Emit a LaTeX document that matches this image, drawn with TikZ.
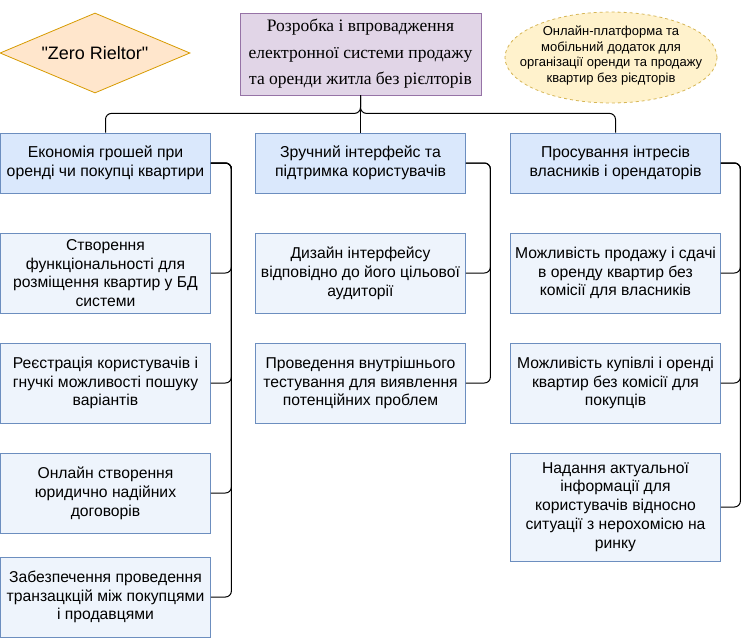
\documentclass[tikz,border=0pt]{standalone}
\usepackage{fontspec}
\setmainfont{Liberation Sans}
\newfontfamily\timesfont{Liberation Serif}
\usetikzlibrary{shapes.geometric}
\definecolor{purplefill}{HTML}{E1D5E7}
\definecolor{purplestroke}{HTML}{9673A6}
\definecolor{orangefill}{HTML}{FFE6CC}
\definecolor{orangestroke}{HTML}{D79B00}
\definecolor{yellowfill}{HTML}{FFF2CC}
\definecolor{yellowstroke}{HTML}{D6B656}
\definecolor{bluefill}{HTML}{DAE8FC}
\definecolor{lightbluefill}{HTML}{EEF4FC}
\definecolor{bluestroke}{HTML}{6C8EBF}
\begin{document}
\begin{tikzpicture}[x=1pt,y=-1pt,
  mainbox/.style={draw=purplestroke, fill=purplefill, line width=0.8pt, inner sep=0pt, align=center,
    minimum width=241pt, minimum height=82pt, font=\timesfont\fontsize{17.5}{26.5}\selectfont},
  zerobox/.style={diamond, aspect=2.375, draw=orangestroke, fill=orangefill, line width=0.8pt, inner sep=0pt,
    minimum width=190pt, minimum height=80pt, font=\fontsize{18}{20}\selectfont},
  noteshape/.style={draw=yellowstroke, fill=yellowfill, dashed, line width=0.8pt},
  notetext/.style={inner sep=0pt, align=center, font=\fontsize{13}{15.5}\selectfont},
  catbox/.style={draw=bluestroke, fill=bluefill, line width=0.8pt, inner sep=0pt, align=center,
    minimum width=210pt, minimum height=60pt, font=\fontsize{15.8}{18.8}\selectfont},
  itembox/.style={draw=bluestroke, fill=lightbluefill, line width=0.8pt, inner sep=0pt, align=center,
    minimum width=210pt, minimum height=80pt, font=\fontsize{15.7}{18.8}\selectfont},
  conn/.style={draw=black, line width=1pt, rounded corners=6pt}]
\useasboundingbox (0,0) rectangle (742,638);

\node[mainbox] (top) at (360.5,54) {Розробка і впровадження\\електронної системи продажу\\та оренди житла без рієлторів};
\node[zerobox] (zr) at (95,53) {\textquotedbl Zero Rieltor\textquotedbl};
\draw[noteshape] (611,57.5) ellipse [x radius=106, y radius=45.5];
\node[notetext] (note) at (611,55.5) {Онлайн-платформа та\\мобільний додаток для\\організації оренди та продажу\\квартир без рієдторів};

\node[catbox] (A) at (105.5,163) {Економія грошей при\\оренді чи покупці квартири};
\node[catbox] (B) at (360.5,163) {Зручний інтерфейс та\\підтримка користувачів};
\node[catbox] (C) at (615.5,163) {Просування інтресів\\власників і орендаторів};

\node[itembox] (A1) at (105.5,273) {Створення\\функціональності для\\розміщення квартир у БД\\системи};
\node[itembox] (A2) at (105.5,383) {Реєстрація користувачів і\\гнучкі можливості пошуку\\варіантів};
\node[itembox] (A3) at (105.5,493) {Онлайн створення\\юридично надійних\\договорів};
\node[itembox] (A4) at (105.5,597) {Забезпечення проведення\\транзацкцій між покупцями\\і продавцями};

\node[itembox] (B1) at (360.5,273) {Дизайн інтерфейсу\\відповідно до його цільової\\аудиторії};
\node[itembox] (B2) at (360.5,383) {Проведення внутрішнього\\тестування для виявлення\\потенційних проблем};

\node[itembox] (C1) at (615.5,273) {Можливість продажу і сдачі\\в оренду квартир без\\комісії для власників};
\node[itembox] (C2) at (615.5,383) {Можливість купівлі і оренді\\квартир без комісії для\\покупців};
\node[itembox, minimum height=108pt] (C3) at (615.5,507) {Надання актуальної\\інформації для\\користувачів відносно\\ситуації з нерохомісю на\\ринку};

\draw[conn] (top.south) -- ++(0,18) -| (A.north);
\draw[conn] (top.south) -- ++(0,18) -| (C.north);
\draw[conn] (top.south) -- (B.north);

\foreach \c in {A1,A2,A3,A4} \draw[conn] (A.east) -- ++(20.5,0) |- (\c.east);
\foreach \c in {B1,B2} \draw[conn] (B.east) -- ++(24.5,0) |- (\c.east);
\foreach \c in {C1,C2,C3} \draw[conn] (C.east) -- ++(19.5,0) |- (\c.east);
\end{tikzpicture}
\end{document}
